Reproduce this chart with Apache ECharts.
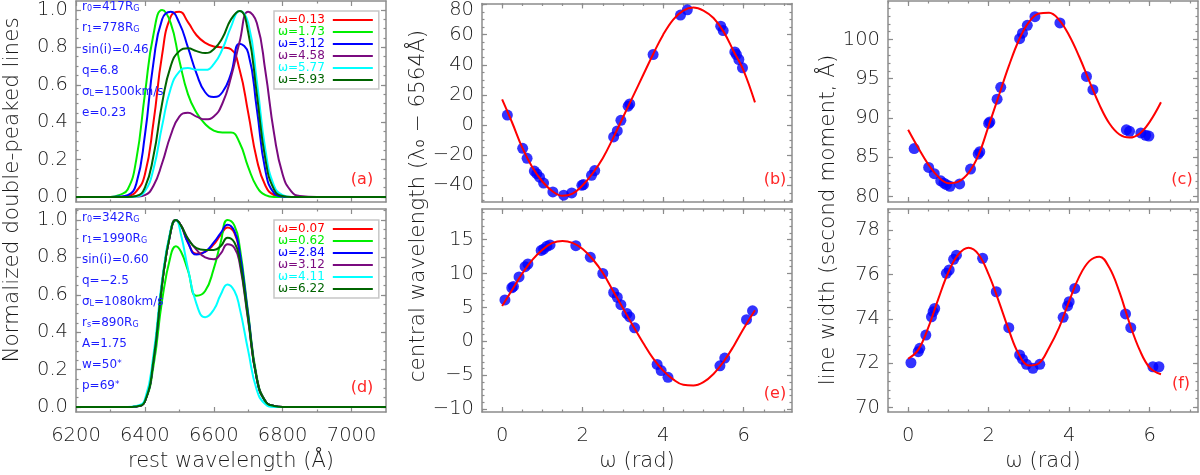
<!DOCTYPE html>
<html>
<head>
<meta charset="utf-8">
<script src="https://cdn.jsdelivr.net/npm/echarts@6/dist/echarts.min.js"></script>
<style>
html, body { margin: 0; padding: 0; background: #fff; }
#chart { width: 1200px; height: 475px; }
</style>
</head>
<body>
<div id="chart"></div>
<script>
// ---- panel (a): model line profiles ----
const waveA = [6200, 6300, 6325, 6350, 6375, 6400, 6425, 6450, 6475, 6500, 6525, 6550, 6575,
               6600, 6625, 6650, 6675, 6700, 6725, 6750, 6775, 6800, 6825, 6850, 6900, 7100];
const omegaA = ['0.13', '1.73', '3.12', '4.58', '5.77', '5.93'];
const profA_013 = [0, 0, 0, 0.005, 0.03, 0.12, 0.40, 0.76, 0.965, 0.99, 0.935, 0.865, 0.825, 0.805, 0.80, 0.79, 0.68, 0.45, 0.20, 0.06, 0.01, 0, 0, 0, 0, 0];
const profA_173 = [0, 0, 0.01, 0.04, 0.20, 0.55, 0.87, 1.0, 0.93, 0.73, 0.55, 0.45, 0.39, 0.355, 0.345, 0.345, 0.29, 0.16, 0.055, 0.01, 0, 0, 0, 0, 0, 0];
const profA_312 = [0, 0, 0.002, 0.01, 0.07, 0.33, 0.72, 0.95, 0.99, 0.93, 0.80, 0.66, 0.56, 0.535, 0.56, 0.66, 0.82, 0.77, 0.47, 0.14, 0.02, 0.003, 0, 0, 0, 0];
const profA_458 = [0, 0, 0, 0, 0.002, 0.01, 0.06, 0.18, 0.33, 0.43, 0.45, 0.43, 0.415, 0.43, 0.50, 0.64, 0.83, 0.99, 0.93, 0.67, 0.34, 0.12, 0.03, 0.005, 0, 0];
const profA_577 = [0, 0, 0, 0, 0.003, 0.03, 0.15, 0.38, 0.58, 0.67, 0.69, 0.68, 0.68, 0.71, 0.79, 0.91, 0.995, 0.93, 0.62, 0.25, 0.06, 0.01, 0, 0, 0, 0];
const profA_593 = [0, 0, 0, 0, 0.005, 0.05, 0.22, 0.50, 0.70, 0.78, 0.795, 0.78, 0.77, 0.79, 0.85, 0.95, 0.995, 0.88, 0.55, 0.20, 0.04, 0.005, 0, 0, 0, 0];
const paramsA = ['r{s|0}=417R{s|G}', 'r{s|1}=778R{s|G}', 'sin(i)=0.46', 'q=6.8', 'σ{s|L}=1500km/s', 'e=0.23'];

// ---- panel (d): model line profiles ----
const waveD = [6200, 6350, 6375, 6400, 6425, 6450, 6475, 6490, 6505, 6525, 6550, 6575,
               6600, 6620, 6640, 6660, 6675, 6700, 6725, 6750, 6775, 6800, 7100];
const omegaD = ['0.07', '0.62', '2.84', '3.12', '4.11', '6.22'];
const profD_007 = [0, 0, 0.003, 0.03, 0.25, 0.66, 0.94, 1.0, 0.97, 0.88, 0.82, 0.83, 0.87, 0.92, 0.96, 0.93, 0.82, 0.48, 0.15, 0.03, 0.005, 0, 0];
const profD_062 = [0, 0, 0.003, 0.03, 0.22, 0.57, 0.81, 0.86, 0.83, 0.73, 0.595, 0.62, 0.74, 0.88, 1.0, 0.97, 0.86, 0.50, 0.16, 0.03, 0.005, 0, 0];
const profD_284 = [0, 0, 0.003, 0.03, 0.25, 0.66, 0.94, 1.0, 0.97, 0.88, 0.815, 0.83, 0.88, 0.93, 0.975, 0.94, 0.83, 0.49, 0.15, 0.03, 0.005, 0, 0];
const profD_312 = [0, 0, 0.003, 0.03, 0.25, 0.66, 0.94, 1.0, 0.97, 0.90, 0.84, 0.80, 0.79, 0.82, 0.87, 0.85, 0.77, 0.46, 0.15, 0.03, 0.005, 0, 0];
const profD_411 = [0, 0, 0.005, 0.04, 0.28, 0.68, 0.95, 1.0, 0.92, 0.74, 0.55, 0.48, 0.52, 0.60, 0.655, 0.62, 0.53, 0.30, 0.09, 0.015, 0, 0, 0];
const profD_622 = [0, 0, 0.003, 0.03, 0.25, 0.66, 0.94, 1.0, 0.97, 0.90, 0.85, 0.84, 0.84, 0.86, 0.905, 0.88, 0.79, 0.47, 0.15, 0.03, 0.005, 0, 0];
const paramsD = ['r{s|0}=342R{s|G}', 'r{s|1}=1990R{s|G}', 'sin(i)=0.60', 'q=−2.5', 'σ{s|L}=1080km/s',
                 'r{s|s}=890R{s|G}', 'A=1.75', 'w=50{p|*}', 'p=69{p|*}'];

// ---- fitted curves (b, c, e, f) sampled along omega ----
const omegaCurve = [0, 0.25, 0.5, 0.75, 1.0, 1.25, 1.5, 1.75, 2.0, 2.25, 2.5, 2.75, 3.0,
                    3.25, 3.5, 3.75, 4.0, 4.25, 4.5, 4.75, 5.0, 5.25, 5.5, 5.75, 6.0, 6.28];
const curveB = [17, 1.5, -15, -28, -37.5, -44, -47, -45.5, -40, -32, -22, -9, 5, 19, 33, 47, 60, 70, 76, 78, 76, 71, 62, 49, 36, 15];
const curveE = [5.2, 7.6, 10.0, 12.0, 13.5, 14.5, 14.8, 14.5, 13.6, 12.1, 10.1, 7.5, 4.9, 2.3, -0.2, -2.5, -4.3, -5.6, -6.4, -6.5, -6.0, -4.8, -3.0, -0.7, 1.9, 4.6];
const curveC = [88.5, 86.2, 84.1, 82.5, 81.7, 81.9, 83.0, 85.3, 89.0, 92.8, 96.6, 99.9, 102.2, 103.3, 103.4, 102.5, 100.5, 97.8, 94.7, 91.7, 89.3, 87.9, 87.5, 88.0, 89.5, 92.0];
const curveF = [72.2, 72.6, 73.6, 74.9, 76.1, 76.9, 77.2, 76.9, 76.0, 74.8, 73.5, 72.4, 71.9, 72.0, 72.7, 73.6, 74.8, 75.9, 76.6, 76.8, 76.3, 75.2, 73.8, 72.6, 71.8, 71.5];

// ---- measured points ----
const omegaB = [0.13, 0.51, 0.62, 0.80, 0.86, 0.93, 1.03, 1.26, 1.53, 1.73, 1.98, 2.02, 2.22, 2.30, 2.77, 2.86, 2.95, 3.13, 3.17, 3.75, 4.43, 4.60, 5.43, 5.49, 5.78, 5.82, 5.88, 5.97];
const valB = [6.6, -15.5, -22.1, -30.6, -32.3, -34.6, -38.5, -44.4, -46.6, -45.1, -40, -39.5, -33.4, -30.2, -7.9, -3.9, 3.1, 12.5, 14.0, 46.8, 73.0, 76.5, 65.6, 62.7, 48.5, 46.8, 43.5, 38.0];
const omegaE = [0.07, 0.24, 0.28, 0.42, 0.57, 0.64, 0.97, 1.03, 1.11, 1.19, 1.83, 2.19, 2.50, 2.77, 2.86, 2.95, 3.10, 3.17, 3.29, 3.85, 3.95, 4.12, 5.41, 5.53, 6.07, 6.22];
const valE = [6.1, 7.9, 8.1, 9.5, 11.0, 11.4, 13.4, 13.6, 14.0, 14.2, 14.1, 12.4, 10.0, 7.2, 6.5, 5.4, 4.1, 3.6, 2.0, -3.4, -4.3, -5.3, -3.6, -2.45, 3.2, 4.5];
const omegaC = [0.15, 0.51, 0.65, 0.81, 0.89, 0.95, 1.04, 1.28, 1.55, 1.74, 1.78, 2.00, 2.03, 2.21, 2.30, 2.77, 2.84, 2.96, 3.15, 3.77, 4.43, 4.59, 5.42, 5.50, 5.78, 5.90, 5.98];
const valC = [86.1, 83.7, 82.9, 82.0, 81.7, 81.5, 81.3, 81.6, 83.5, 85.4, 85.7, 89.3, 89.5, 92.4, 93.9, 100.1, 100.8, 101.8, 102.9, 102.1, 95.3, 93.6, 88.5, 88.3, 88.1, 87.8, 87.7];
const omegaF = [0.07, 0.25, 0.29, 0.44, 0.58, 0.62, 0.66, 0.95, 1.02, 1.13, 1.20, 1.85, 2.19, 2.50, 2.77, 2.84, 2.94, 3.10, 3.27, 3.85, 3.96, 4.00, 4.14, 5.40, 5.53, 6.08, 6.23];
const valF = [72.02, 72.52, 72.67, 73.27, 74.09, 74.32, 74.47, 76.05, 76.2, 76.68, 76.87, 76.73, 75.22, 73.6, 72.37, 72.18, 71.95, 71.77, 71.95, 74.07, 74.58, 74.77, 75.37, 74.22, 73.6, 71.84, 71.84];

// styles
const FONT = 'DejaVu Sans';
const AXIS = '#8c8c8c';
const TXT = '#1a1a1a';
const PARAM_BLUE = '#1c1cff';
const LABEL_RED = '#ff2626';
const coloursA = ['#ff0000', '#00ee00', '#0000ff', '#7a0a7f', '#00ffff', '#006400'];
const coloursD = ['#ff0000', '#00ee00', '#0000ff', '#7a0a7f', '#00ffff', '#006400'];

function ticks(from, to, step) {
    const out = [];
    for (let v = from; v <= to + 1e-9; v += step) out.push(+v.toFixed(4));
    return out;
}
const minus = s => String(s).replace('-', '−');

const omegaMaj = [0, 2, 4, 6];
const omegaMin = ticks(-0.5, 7.0, 0.5);

const panels = [
    { box: { left: 76, top: 1, width: 310, height: 201 }, x: [6200, 7100], y: [-0.027, 1.048],
      xMaj: ticks(6200, 7000, 200), xMin: ticks(6300, 6900, 200), yMaj: ticks(0, 1, 0.2), yMin: ticks(0, 1.05, 0.05),
      yFmt: v => v.toFixed(1), bottom: false },
    { box: { left: 76, top: 209, width: 310, height: 203 }, x: [6200, 7100], y: [-0.027, 1.059],
      xMaj: ticks(6200, 7000, 200), xMin: ticks(6300, 6900, 200), yMaj: ticks(0, 1, 0.2), yMin: ticks(0, 1.05, 0.05),
      yFmt: v => v.toFixed(1), bottom: true, xName: 'rest wavelength (Å)' },
    { box: { left: 482, top: 1, width: 310, height: 201 }, x: [-0.5, 7.2], y: [-51.1, 80.7],
      xMaj: omegaMaj, xMin: omegaMin, yMaj: ticks(-40, 80, 20), yMin: ticks(-50, 80, 5),
      yFmt: v => v === 80 ? '{t|80}' : minus(v), bottom: false },
    { box: { left: 482, top: 209, width: 310, height: 203 }, x: [-0.5, 7.2], y: [-10.4, 19.5],
      xMaj: omegaMaj, xMin: omegaMin, yMaj: ticks(-10, 15, 5), yMin: ticks(-10, 19, 1),
      yFmt: v => minus(v), bottom: true, xName: 'ω (rad)' },
    { box: { left: 888, top: 1, width: 310, height: 201 }, x: [-0.5, 7.2], y: [79.3, 104.9],
      xMaj: omegaMaj, xMin: omegaMin, yMaj: ticks(80, 100, 5), yMin: ticks(80, 104, 1),
      yFmt: v => minus(v), bottom: false },
    { box: { left: 888, top: 209, width: 310, height: 203 }, x: [-0.5, 7.2], y: [69.8, 78.95],
      xMaj: omegaMaj, xMin: omegaMin, yMaj: ticks(70, 78, 2), yMin: ticks(70, 78.8, 0.4),
      yFmt: v => minus(v), bottom: true, xName: 'ω (rad)' }
];

const grids = [], xAxes = [], yAxes = [];
panels.forEach((p, gi) => {
    grids.push(Object.assign({ containLabel: false }, p.box));
    const base = (min, max, position) => ({
        gridIndex: gi, type: 'value', min, max, position,
        splitLine: { show: false },
        axisLine: { show: true, onZero: false, lineStyle: { color: AXIS, width: 1.5 } }
    });
    const tick = (vals, len) => ({ show: true, inside: true, length: len, customValues: vals, lineStyle: { color: AXIS, width: 1.2 } });
    const noLine = { show: false, onZero: false };

    // bottom (labels) + minor, top + minor
    xAxes.push(Object.assign(base(p.x[0], p.x[1], 'bottom'), {
        axisTick: tick(p.xMaj, 5),
        axisLabel: { show: p.bottom, customValues: p.xMaj, margin: 14, fontSize: 19.5, fontFamily: FONT, fontWeight: 300, color: TXT, formatter: v => minus(v) },
        name: p.xName || '', nameLocation: 'middle', nameGap: 39,
        nameTextStyle: { fontSize: 21, fontFamily: FONT, fontWeight: 300, color: TXT }
    }));
    xAxes.push(Object.assign(base(p.x[0], p.x[1], 'bottom'), { axisLine: noLine, axisTick: tick(p.xMin, 2.5), axisLabel: { show: false } }));
    xAxes.push(Object.assign(base(p.x[0], p.x[1], 'top'), { axisTick: tick(p.xMaj, 5), axisLabel: { show: false } }));
    xAxes.push(Object.assign(base(p.x[0], p.x[1], 'top'), { axisLine: noLine, axisTick: tick(p.xMin, 2.5), axisLabel: { show: false } }));

    yAxes.push(Object.assign(base(p.y[0], p.y[1], 'left'), {
        axisTick: tick(p.yMaj, 5),
        axisLabel: { show: true, customValues: p.yMaj, margin: 8, fontSize: 19.5, fontFamily: FONT, fontWeight: 300, color: TXT,
                     formatter: p.yFmt, rich: { t: { fontSize: 19.5, fontFamily: FONT, fontWeight: 300, color: TXT, padding: [11, 0, 0, 0] } } }
    }));
    yAxes.push(Object.assign(base(p.y[0], p.y[1], 'left'), { axisLine: noLine, axisTick: tick(p.yMin, 2.5), axisLabel: { show: false } }));
    yAxes.push(Object.assign(base(p.y[0], p.y[1], 'right'), { axisTick: tick(p.yMaj, 5), axisLabel: { show: false } }));
    yAxes.push(Object.assign(base(p.y[0], p.y[1], 'right'), { axisLine: noLine, axisTick: tick(p.yMin, 2.5), axisLabel: { show: false } }));
});

function profile(gi, name, colour, wave, vals) {
    return {
        type: 'line', name, xAxisIndex: gi * 4, yAxisIndex: gi * 4,
        data: wave.map((w, i) => [w, vals[i]]),
        showSymbol: false, smooth: 0.5,
        lineStyle: { color: colour, width: 2 }, itemStyle: { color: colour }, z: 3
    };
}
function fitCurve(gi, vals) {
    return {
        type: 'line', xAxisIndex: gi * 4, yAxisIndex: gi * 4,
        data: omegaCurve.map((w, i) => [w, vals[i]]),
        showSymbol: false, smooth: 0.4,
        lineStyle: { color: '#ff0000', width: 2 }, z: 4
    };
}
function points(gi, xs, ys) {
    return {
        type: 'scatter', xAxisIndex: gi * 4, yAxisIndex: gi * 4,
        data: xs.map((w, i) => [w, ys[i]]),
        symbol: 'circle', symbolSize: 11, itemStyle: { color: '#0000ff' }, z: 3
    };
}

const profilesA = [profA_013, profA_173, profA_312, profA_458, profA_577, profA_593];
const profilesD = [profD_007, profD_062, profD_284, profD_312, profD_411, profD_622];

const series = [];
omegaA.forEach((o, i) => series.push(profile(0, 'ω=' + o, coloursA[i], waveA, profilesA[i])));
omegaD.forEach((o, i) => series.push(profile(1, 'ω=' + o, coloursD[i], waveD, profilesD[i])));
series.push(points(2, omegaB, valB), fitCurve(2, curveB));
series.push(points(3, omegaE, valE), fitCurve(3, curveE));
series.push(points(4, omegaC, valC), fitCurve(4, curveC));
series.push(points(5, omegaF, valF), fitCurve(5, curveF));

function legendBox(top, omegas, colours) {
    return {
        orient: 'vertical', left: 274, top, align: 'right', icon: 'rect',
        itemWidth: 40, itemHeight: 2, itemGap: 0, selectedMode: false,
        padding: [3, 6, 3, 4], borderColor: '#c6c6c6', borderWidth: 1.5, backgroundColor: '#fff',
        textStyle: { fontSize: 12, lineHeight: 10.8, fontFamily: FONT, padding: [0, 3, 0, 0] },
        data: omegas.map((o, i) => ({ name: 'ω=' + o, textStyle: { color: colours[i] }, itemStyle: { color: colours[i] } }))
    };
}

const richSub = {
    s: { fontSize: 8, fontFamily: FONT, fill: PARAM_BLUE, verticalAlign: 'bottom', padding: [4, 0, 0, 0] },
    p: { fontSize: 9, fontFamily: FONT, fill: PARAM_BLUE, verticalAlign: 'top' }
};
function paramTexts(lines, y0, step) {
    return lines.map((t, i) => ({
        type: 'text', x: 82, y: y0 + i * step, z: 10,
        style: { text: t, font: '12px ' + FONT, fill: PARAM_BLUE, align: 'left', verticalAlign: 'middle', rich: richSub }
    }));
}
function vTitle(x, y, size, text) {
    return { type: 'text', x, y, rotation: Math.PI / 2, z: 10,
             style: { text, font: '300 ' + size + 'px ' + FONT, fill: TXT, align: 'center', verticalAlign: 'middle' } };
}
function tag(x, y, text) {
    return { type: 'text', x, y, z: 10, style: { text, font: '16px ' + FONT, fill: LABEL_RED, align: 'center', verticalAlign: 'middle' } };
}

const graphic = [].concat(
    paramTexts(paramsA, 7, 21.2),
    paramTexts(paramsD, 218, 21),
    [
        vTitle(12, 190, 21.5, 'Normalized double-peaked lines'),
        vTitle(418, 206, 21.5, 'central wavelength (λ₀ − 6564Å)'),
        vTitle(828, 220, 21.5, 'line width (second moment, Å)'),
        tag(362, 180, '(a)'), tag(362, 388, '(d)'),
        tag(775, 180, '(b)'), tag(775, 394, '(e)'),
        tag(1182, 180, '(c)'), tag(1181, 384, '(f)')
    ]
);

const chart = echarts.init(document.getElementById('chart'));
chart.setOption({
    animation: false,
    backgroundColor: '#fff',
    grid: grids,
    xAxis: xAxes,
    yAxis: yAxes,
    legend: [legendBox(11, omegaA, coloursA), legendBox(220, omegaD, coloursD)],
    graphic,
    series
});
</script>
</body>
</html>
